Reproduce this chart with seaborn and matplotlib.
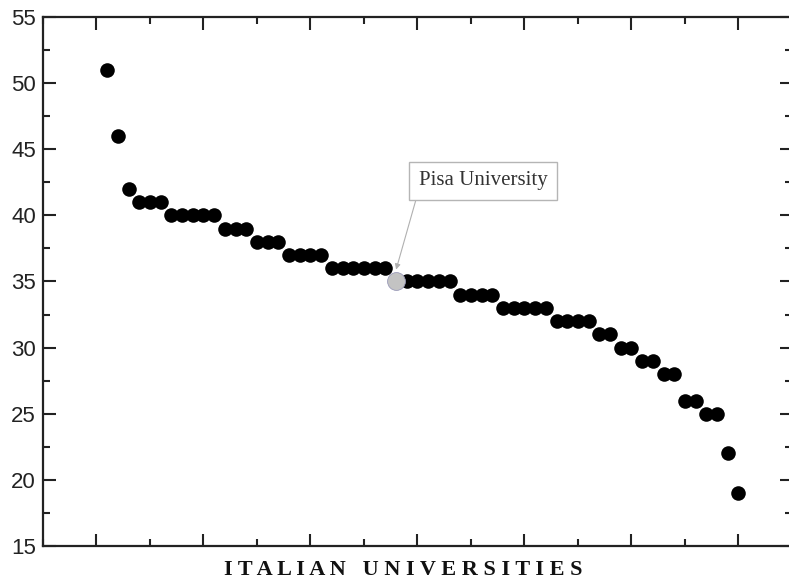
import matplotlib
matplotlib.use("Agg")
import matplotlib.pyplot as plt
import seaborn as sns
import pandas as pd
from matplotlib.ticker import MultipleLocator

# Scores of the Italian universities, ranked from highest to lowest
rank = list(range(1, 61))
score = [51, 46, 42,
         41, 41, 41,
         40, 40, 40, 40, 40,
         39, 39, 39,
         38, 38, 38,
         37, 37, 37, 37,
         36, 36, 36, 36, 36, 36,
         35,
         35, 35, 35, 35, 35,
         34, 34, 34, 34,
         33, 33, 33, 33, 33,
         32, 32, 32, 32,
         31, 31,
         30, 30,
         29, 29,
         28, 28,
         26, 26,
         25, 25,
         22,
         19]
highlight_rank = 28
highlight_name = "Pisa University"

df = pd.DataFrame({"rank": rank, "score": score})
others = df[df["rank"] != highlight_rank]
pisa = df[df["rank"] == highlight_rank]

sns.set_style("ticks")
fig = plt.figure(figsize=(7.89, 5.81), dpi=100)
ax = fig.add_axes([43 / 789, 1 - 546 / 581, (792 - 43) / 789, (546 - 17) / 581])

sns.scatterplot(data=others, x="rank", y="score", ax=ax, color="black",
                s=110, edgecolor="black", linewidth=0, legend=False, zorder=3)
sns.scatterplot(data=pisa, x="rank", y="score", ax=ax, color="#c3c3c3",
                s=165, edgecolor="#9a9ab8", linewidth=0.6, legend=False, zorder=4)

ax.set_xlim(-5, 65)
ax.set_ylim(15, 55)
ax.xaxis.set_major_locator(MultipleLocator(10))
ax.xaxis.set_minor_locator(MultipleLocator(5))
ax.yaxis.set_major_locator(MultipleLocator(5))
ax.yaxis.set_minor_locator(MultipleLocator(2.5))
ax.set_xticklabels([])
ax.tick_params(which="both", direction="in", top=True, right=True,
               width=1.5, color="#222222")
ax.tick_params(which="major", length=9, labelsize=16, pad=5,
               labelcolor="#222222")
ax.tick_params(which="minor", length=5)
ax.tick_params(axis="x", which="major", labelbottom=False)
for sp in ax.spines.values():
    sp.set_linewidth(1.6)
    sp.set_color("#222222")
    sp.set_visible(True)
for lab in ax.get_yticklabels():
    lab.set_fontfamily("Liberation Sans")

ax.set_ylabel("")
ax.set_xlabel("I T A L I A N   U N I V E R S I T I E S",
              fontfamily="Liberation Serif", fontweight="bold",
              fontsize=16, color="#111111")
ax.xaxis.set_label_coords((403 - 43) / (792 - 43), -0.027)
ax.xaxis.label.set_verticalalignment("top")

ax.annotate(highlight_name,
            xy=(highlight_rank, pisa["score"].iloc[0] + 0.9),
            xytext=(highlight_rank + 2.1, 42.6),
            fontfamily="Liberation Serif", fontsize=15, color="#333333",
            ha="left", va="center",
            bbox=dict(boxstyle="square,pad=0.45", fc="white",
                      ec="#b5b5b5", lw=1.0),
            arrowprops=dict(arrowstyle="-|>", color="#b0b0b0", lw=0.8,
                            mutation_scale=8, shrinkA=0, shrinkB=0,
                            relpos=(0.0, 0.0)),
            zorder=5)

fig.savefig("out.png", dpi=100)
